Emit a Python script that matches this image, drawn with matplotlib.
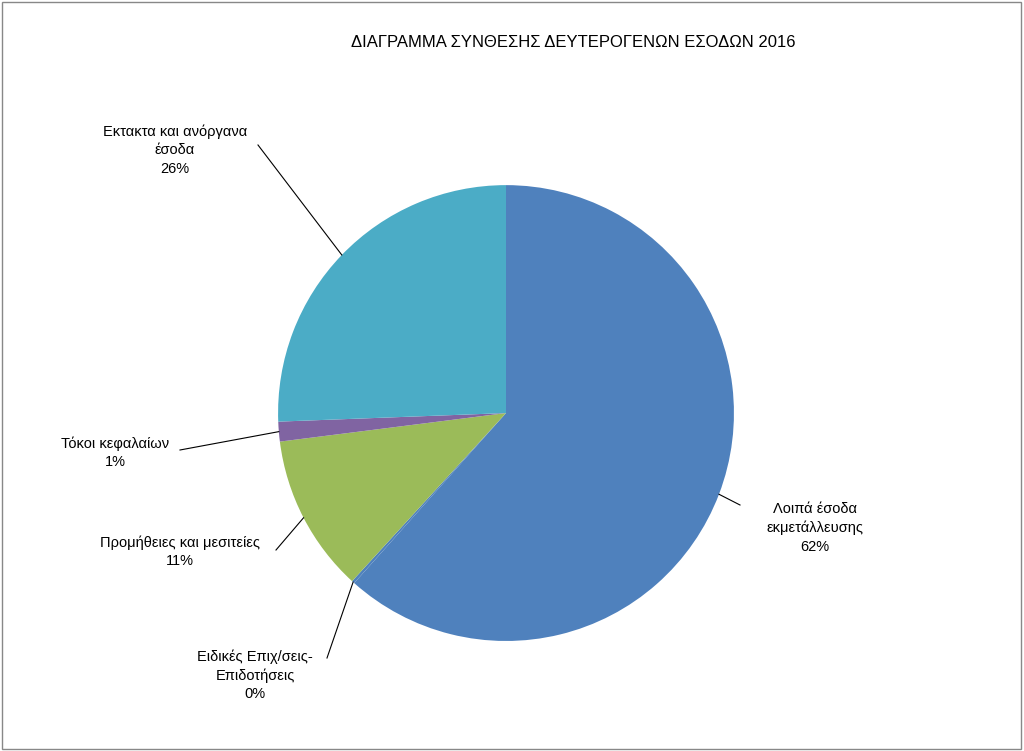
import numpy as np
import matplotlib
matplotlib.use("Agg")
import matplotlib.pyplot as plt
from matplotlib.patches import Rectangle

labels = ["Λοιπά έσοδα\nεκμετάλλευσης\n62%", "Ειδικές Επιχ/σεις-\nΕπιδοτήσεις\n0%",
          "Προμήθειες και μεσιτείες\n11%", "Τόκοι κεφαλαίων\n1%", "Εκτακτα και ανόργανα\nέσοδα\n26%"]
values = [61.6, 0.2, 11.2, 1.4, 25.6]
colors = ["#4F81BD", "#4F81BD", "#9BBB59", "#8064A2", "#4BACC6"]
# text anchor positions (figure pixels, from bottom) and alignments
text_pos = [(815, 223), (255, 76), (180, 199), (115, 298), (175, 601)]
line_end = [(740, 246), (327, 93), (276, 201), (180, 301), (258, 606)]

plt.rcParams['font.family'] = ['Liberation Sans', 'DejaVu Sans']
fig = plt.figure(figsize=(10.24, 7.51), dpi=100)
fig.patches.append(Rectangle((0.002, 0.002), 0.995, 0.995, transform=fig.transFigure,
                             fill=False, edgecolor="#888888", lw=1))
ax = fig.add_axes([0.2715, 0.1465, 0.4453, 0.607])
wedges, _ = ax.pie(values, colors=colors, startangle=90, counterclock=False,
                   radius=1, wedgeprops=dict(linewidth=0))
ax.set_xlim(-1, 1); ax.set_ylim(-1, 1); ax.set_aspect('equal')
ax.axis('off')

for w, lab, tp, le in zip(wedges, labels, text_pos, line_end):
    ang = np.deg2rad((w.theta1 + w.theta2) / 2)
    x, y = np.cos(ang), np.sin(ang)
    # leader line from wedge edge to label
    disp = ax.transData.transform((x, y))
    fig.add_artist(plt.Line2D([disp[0], le[0]], [disp[1], le[1]], transform=None,
                              color="black", lw=0.8))
    fig.text(tp[0] / 1024, tp[1] / 751, lab, ha='center', va='center', fontsize=10.5,
             linespacing=1.4)

fig.text(0.56, 0.944, "ΔΙΑΓΡΑΜΜΑ ΣΥΝΘΕΣΗΣ ΔΕΥΤΕΡΟΓΕΝΩΝ ΕΣΟΔΩΝ 2016", ha='center',
         va='center', fontsize=12)
fig.savefig("out.png", dpi=100)
